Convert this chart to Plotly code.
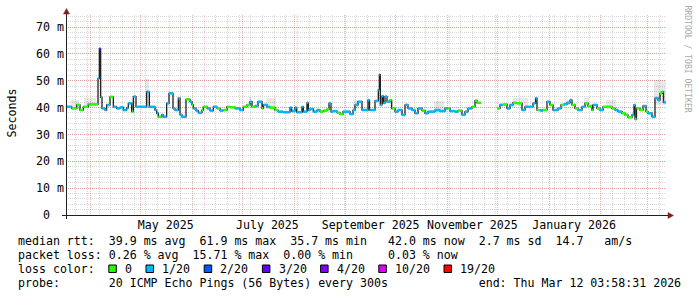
import plotly.graph_objects as go
import pandas as pd

# ---------------- data ----------------
START = pd.Timestamp("2025-03-17 03:58:31")
END = pd.Timestamp("2026-03-12 03:58:31")

# start of each step (days after START), median rtt (ms) and loss level index
seg_day = [0.0, 3.4, 6.4, 8.4, 10.4, 13.4, 19.2, 20.0, 20.8, 21.6, 23.4, 24.4, 26.4, 28.4, 30.4,
           32.4, 34.4, 36.4, 37.4, 39.4, 40.4, 42.0, 48.4, 50.0, 53.4, 54.4, 55.4, 57.4, 58.4,
           60.4, 61.8, 64.2, 65.4, 67.4, 68.4, 69.6, 72.0, 74.4, 75.6, 76.4, 78.0, 79.4, 81.6,
           82.4, 84.6, 86.4, 88.4, 90.6, 92.4, 94.4, 96.6, 98.4, 101.4, 104.4, 106.4, 108.6,
           110.4, 111.6, 113.4, 115.2, 117.6, 118.4, 120.6, 122.4, 125.4, 127.2, 130.2, 134.4,
           135.4, 137.4, 138.4, 141.6, 142.4, 144.6, 145.4, 146.4, 148.4, 150.6, 152.4, 154.4,
           156.6, 157.8, 159.0, 160.2, 162.6, 164.4, 166.2, 170.4, 172.2, 173.4, 175.2, 177.6,
           181.2, 182.1, 185.4, 187.4, 188.0, 188.6, 189.6, 190.4, 191.4, 192.6, 194.4, 195.4,
           197.4, 199.2, 201.6, 203.4, 205.2, 207.6, 209.4, 211.2, 213.6, 215.4, 217.2, 221.4,
           224.4, 227.4, 229.2, 230.4, 233.4, 235.2, 237.6, 239.4, 241.2, 243.6, 245.4, 246.6,
           249.0, 258.6, 260.4, 262.2, 264.6, 266.4, 268.2, 270.6, 273.6, 275.4, 280.2, 281.7,
           282.6, 284.4, 286.2, 288.6, 290.4, 292.2, 295.2, 297.0, 298.8, 300.6, 302.4, 303.6,
           305.4, 307.2, 309.6, 311.4, 313.2, 315.6, 316.2, 318.6, 320.4, 322.2, 327.6, 329.4,
           331.2, 333.6, 335.4, 337.2, 339.6, 340.8, 341.4, 342.3, 344.4, 346.2, 348.0, 349.2,
           351.6, 353.4, 355.2, 356.4, 357.6, 358.5]
median_ms = [40.3, 39.7, 41.0, 39.1, 40.3, 41.2, 50.9, 61.9, 43.8, 39.7, 39.1, 41.0, 44.0, 40.3, 39.7,
             40.1, 39.1, 39.9, 41.6, 38.5, 44.1, 40.3, 45.9, 40.3, 39.1, 37.9, 36.6, 37.3, 36.6,
             41.6, 45.3, 39.7, 39.1, 43.5, 37.3, 36.6, 43.1, 42.2, 41.0, 39.7, 38.9, 38.1, 39.1,
             40.3, 39.7, 38.9, 40.3, 39.7, 38.9, 39.1, 40.3, 40.1, 39.7, 39.1, 40.3, 41.0,
             42.2, 40.3, 40.6, 42.2, 39.7, 41.0, 40.3, 40.0, 39.1, 38.5, 38.3, 40.0,
             38.7, 40.0, 38.3, 40.3, 38.5, 41.8, 39.1, 39.5, 38.5, 39.1, 38.5, 38.9,
             39.4, 41.6, 38.5, 38.7, 38.1, 37.6, 38.5, 37.6, 39.1, 41.0, 42.2, 39.1,
             42.8, 39.1, 42.5, 46.6, 52.3, 41.0, 44.3, 41.7, 44.1, 42.2, 42.8, 39.7,
             38.5, 39.1, 37.3, 41.0, 39.7, 39.1, 37.9, 39.7, 38.9, 37.9, 38.5, 39.1,
             38.7, 39.7, 39.7, 38.7, 38.5, 38.9, 37.3, 38.5, 39.7, 40.3, 42.6, 41.8,
             None, 39.7, 41.0, 41.2, 39.7, 41.0, 41.8, 41.6, 39.1, 40.3, 41.6, 43.5,
             39.1, 38.9, 39.1, 42.2, 41.0, 39.1, 39.7, 41.0, 41.3, 41.8, 42.8, 41.0,
             39.7, 39.1, 40.3, 41.6, 40.6, 39.1, 41.0, 39.7, 39.1, 40.3, 39.7, 39.1,
             38.5, 37.9, 37.3, 36.4, 37.3, 41.0, 35.7, 39.7, 39.1, 40.6, 38.5, 37.9,
             36.6, 43.5, 42.8, 45.3, 45.9, 42.0]
loss_idx = [1, 0, 0, 0, 0, 0, 1, 3, 1, 1, 1, 1, 0, 1, 1,
            1, 1, 1, 1, 0, 1, 1, 1, 1, 1, 1, 0, 1, 1,
            1, 1, 1, 1, 1, 1, 1, 0, 1, 0, 1, 1, 1, 0,
            0, 1, 1, 1, 0, 1, 0, 0, 0, 1, 1, 0, 0,
            1, 0, 1, 1, 0, 1, 1, 0, 0, 1, 1, 1,
            1, 1, 1, 1, 1, 1, 1, 1, 1, 1, 0, 0,
            0, 1, 1, 1, 0, 0, 1, 1, 1, 1, 1, 1,
            1, 1, 1, 1, 1, 1, 1, 1, 1, 1, 0, 0,
            1, 1, 1, 1, 1, 1, 1, 1, 0, 1, 1, 1,
            1, 1, 0, 1, 1, 0, 1, 1, 1, 0, 0, 0,
            None, 0, 1, 0, 1, 1, 0, 0, 1, 1, 1, 1,
            0, 1, 0, 1, 0, 1, 1, 0, 1, 1, 1, 0,
            0, 1, 1, 0, 0, 0, 1, 0, 1, 0, 0, 1,
            1, 0, 0, 0, 1, 1, 0, 0, 0, 1, 0, 1,
            1, 1, 1, 0, 0, 1]

# smoke (spread of the individual pings) where it is visible
smoke_from = [3, 11, 47.5, 109.5, 120, 157.5, 172, 221, 268, 300, 311, 324, 353]
smoke_to = [8, 18, 49.5, 111, 126, 158.5, 176, 227, 277, 302.5, 314, 330, 360]
smoke_lo = [39.5, 40.2, 40.0, 40.0, 39.5, 40.0, 39.5, 38.5, 40.5, 41.0, 40.5, 39.5, 41.0]
smoke_hi = [42.8, 43.5, 50.8, 44.0, 43.6, 42.5, 43.0, 42.5, 43.5, 43.0, 43.5, 42.8, 50.3]

loss_labels = ["0", "1/20", "2/20", "3/20", "4/20", "10/20", "19/20"]
loss_colors = ["#26ff00", "#00b8ff", "#0059ff", "#5e00ff", "#7e00ff", "#dd00ff", "#ff0000"]

y_ticks = [0, 10, 20, 30, 40, 50, 60, 70]
y_tick_text = ["0\u00a0\u00a0", "10 m", "20 m", "30 m", "40 m", "50 m", "60 m", "70 m"]
month_ticks = ["2025-05-16", "2025-07-16", "2025-09-16", "2025-11-16", "2026-01-16"]
month_text = ["May 2025", "July 2025", "September 2025", "November 2025", "January 2026"]

legend_rows = [
    "median rtt:  39.9 ms avg  61.9 ms max  35.7 ms min   42.0 ms now  2.7 ms sd  14.7   am/s",
    "packet loss: 0.26 % avg  15.71 % max  0.00 % min     0.03 % now",
    "loss color:",
    "probe:       20 ICMP Echo Pings (56 Bytes) every 300s             end: Thu Mar 12 03:58:31 2026",
]

# ---------------- geometry helpers ----------------
W, H = 697, 297
L, T, PW, PH = 66, 15, 600, 200
MONO = "DejaVu Sans Mono"
FS = 11.6
CW = 7.0


def px(xp):
    return (xp - L) / PW


def py(yp):
    return (T + PH - yp) / PH


def ts(d):
    return START + pd.to_timedelta(d, unit="D")


end_day = (END - START) / pd.Timedelta(days=1)
seg_end = seg_day[1:] + [end_day]

fig = go.Figure()

# smoke
fig.add_trace(go.Bar(
    x=[ts((a + b) / 2) for a, b in zip(smoke_from, smoke_to)],
    y=[h - l for l, h in zip(smoke_lo, smoke_hi)],
    base=smoke_lo,
    width=[(b - a) * 86400000 for a, b in zip(smoke_from, smoke_to)],
    marker=dict(color="rgba(0,0,0,0.09)", line=dict(width=0)),
    hoverinfo="skip", showlegend=False))

# dark median line
lx, ly = [], []
for d0, d1, v in zip(seg_day, seg_end, median_ms):
    if v is None:
        lx.append(ts(d0)); ly.append(None)
    else:
        lx += [ts(d0), ts(d1)]; ly += [v, v]
fig.add_trace(go.Scatter(x=lx, y=ly, mode="lines", line=dict(color="#202020", width=1.3),
                         connectgaps=False, hoverinfo="skip", showlegend=False))

# loss-coloured median segments
for k, col in enumerate(loss_colors):
    cx, cy = [], []
    for d0, d1, v, li in zip(seg_day, seg_end, median_ms, loss_idx):
        if v is not None and li == k:
            cx += [ts(d0), ts(d1), None]; cy += [v, v, None]
    if cx:
        fig.add_trace(go.Scatter(x=cx, y=cy, mode="lines", line=dict(color=col, width=2.6),
                                 connectgaps=False, hoverinfo="skip", showlegend=False))

# helper trace for label axis
fig.add_trace(go.Scatter(x=month_ticks, y=[None] * len(month_ticks), xaxis="x2",
                         mode="markers", showlegend=False, hoverinfo="skip"))

GRID = "rgba(150,150,150,0.38)"
MGRID = "rgba(222,79,79,0.42)"
DOT = "1px,1px"
tickfont = dict(family=MONO, size=FS, color="#000")

fig.update_layout(
    width=W, height=H,
    margin=dict(l=L, r=W - L - PW, t=T, b=H - T - PH, pad=0),
    paper_bgcolor="white", plot_bgcolor="white",
    bargap=0, barmode="overlay",
    xaxis=dict(type="date", range=[START, END], showticklabels=False, ticks="",
               tick0="2025-04-01", dtick="M1", showgrid=True, gridcolor=MGRID,
               griddash=DOT, gridwidth=1, zeroline=False, showline=False,
               minor=dict(tick0="2025-03-23", dtick=7 * 86400000, showgrid=True,
                          gridcolor=GRID, griddash=DOT, gridwidth=1, ticks="")),
    xaxis2=dict(type="date", overlaying="x", anchor="y", side="bottom", matches="x",
                range=[START, END], tickmode="array", tickvals=month_ticks, ticktext=month_text,
                showgrid=False, ticks="", zeroline=False, showline=False, tickfont=tickfont,
                ticklabelstandoff=1),
    yaxis=dict(range=[0, 74.5], tickmode="array", tickvals=y_ticks, ticktext=y_tick_text,
               showgrid=True, gridcolor=MGRID, griddash=DOT, gridwidth=1,
               zeroline=False, showline=False, ticks="", tickfont=tickfont,
               ticklabelstandoff=1,
               minor=dict(tick0=0, dtick=2, showgrid=True, gridcolor=GRID, griddash=DOT,
                          gridwidth=1, ticks="")),
    showlegend=False,
)

AXIS = "#1f1f1f"
ARROW = "#801f1f"
shapes = [
    dict(type="line", xref="paper", yref="paper", x0=px(62), x1=px(670), y0=py(215.5), y1=py(215.5),
         line=dict(color=AXIS, width=1), layer="above"),
    dict(type="line", xref="paper", yref="paper", x0=px(66.5), x1=px(66.5), y0=py(219), y1=py(12),
         line=dict(color=AXIS, width=1), layer="above"),
    dict(type="path", xref="paper", yref="paper",
         path=f"M {px(668)} {py(212.5)} L {px(673.5)} {py(215.5)} L {px(668)} {py(218.5)} Z",
         fillcolor=ARROW, line=dict(color=ARROW, width=0.5), layer="above"),
    dict(type="path", xref="paper", yref="paper",
         path=f"M {px(63.5)} {py(14)} L {px(66.5)} {py(8.5)} L {px(69.5)} {py(14)} Z",
         fillcolor=ARROW, line=dict(color=ARROW, width=0.5), layer="above"),
]

annotations = []
row_y = [241.3, 255.0, 269.0, 282.6]
for text, yy in zip(legend_rows, row_y):
    annotations.append(dict(text=text.replace(" ", "\u00a0"), xref="paper", yref="paper",
                            x=px(16), y=py(yy), xanchor="left", yanchor="middle",
                            showarrow=False, font=dict(family=MONO, size=FS, color="#000")))

# loss colour legend swatches
xcur = 108.3
for lab, col in zip(loss_labels, loss_colors):
    shapes.append(dict(type="rect", xref="paper", yref="paper",
                       x0=px(xcur + 0.5), x1=px(xcur + 8), y0=py(272.5), y1=py(265),
                       fillcolor=col, line=dict(color="#000", width=1)))
    tx = xcur + 14.7
    annotations.append(dict(text=lab, xref="paper", yref="paper", x=px(tx), y=py(269.0),
                            xanchor="left", yanchor="middle", showarrow=False,
                            font=dict(family=MONO, size=FS, color="#000")))
    xcur = tx + len(lab) * CW + 15.5

# y axis title
annotations.append(dict(text="Seconds", xref="paper", yref="paper", x=px(11), y=py(113.5),
                        textangle=-90, xanchor="center", yanchor="middle", showarrow=False,
                        font=dict(family=MONO, size=FS, color="#000")))
# watermark
annotations.append(dict(text="RRDTOOL / TOBI OETIKER", xref="paper", yref="paper",
                        x=px(687.5), y=py(59), textangle=90, xanchor="center", yanchor="middle",
                        showarrow=False, font=dict(family=MONO, size=8.1, color="#a8a8a8")))

fig.update_layout(shapes=shapes, annotations=annotations)
fig.write_html("out.html")
